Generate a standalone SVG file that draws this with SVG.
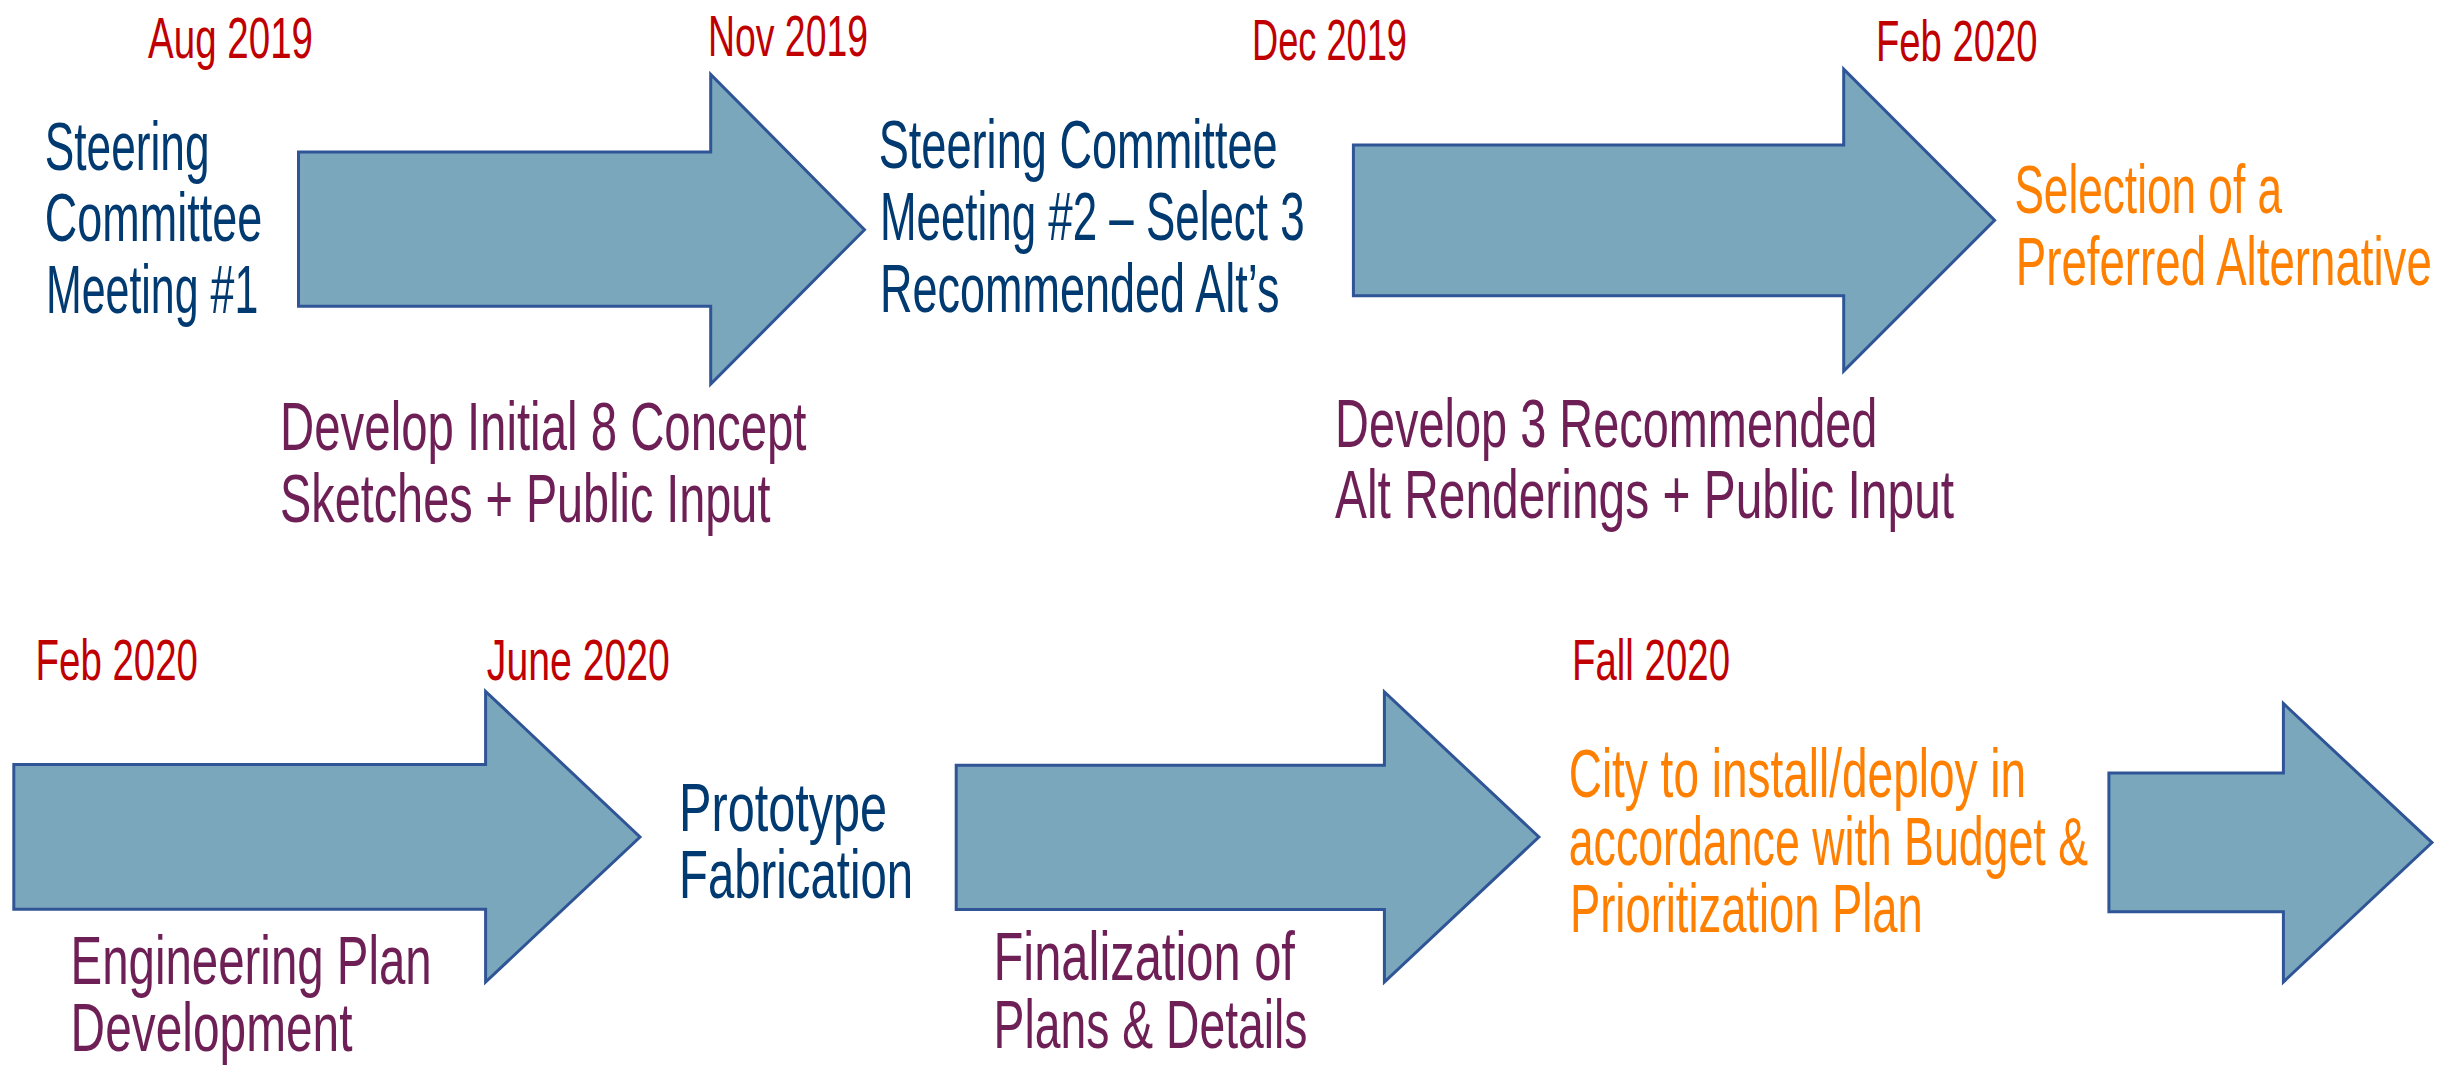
<svg xmlns="http://www.w3.org/2000/svg" width="2456" height="1089" viewBox="0 0 2456 1089">
  <style>
    text { font-family: "Liberation Sans Narrow", "Liberation Sans", Arial, sans-serif; }
    .date { font-size: 58px; fill: #C00000; }
    .step { font-size: 68px; fill: #003A70; }
    .task { font-size: 68px; fill: #6E1F56; }
    .goal { font-size: 68px; fill: #FF8000; }
    .arrow { fill: #7BA7BC; stroke: #2F5597; stroke-width: 3; stroke-linejoin: miter; }
  </style>
  <rect width="2456" height="1089" fill="#FFFFFF"/>

  <!-- Block arrows between milestones -->
  <g id="connectors">
    <polygon class="arrow" points="298.5,152 710.7,152 710.7,74.4 864.5,229.7 710.7,384 710.7,306.2 298.5,306.2"/>
    <polygon class="arrow" points="1353.4,145 1843.7,145 1843.7,69.1 1994.6,220.3 1843.7,371.1 1843.7,295.7 1353.4,295.7"/>
    <polygon class="arrow" points="13.8,764.6 485.6,764.6 485.6,691.4 640,837 485.6,982 485.6,909.3 13.8,909.3"/>
    <polygon class="arrow" points="956.2,765.3 1384.4,765.3 1384.4,692 1538.9,837 1384.4,982 1384.4,909.6 956.2,909.6"/>
    <polygon class="arrow" points="2108.9,773 2283.4,773 2283.4,703.5 2432,842.6 2283.4,982 2283.4,911.8 2108.9,911.8"/>
  </g>

  <!-- Dates -->
  <g id="dates">
    <text class="date" x="148" y="57.5" textLength="165" lengthAdjust="spacingAndGlyphs">Aug 2019</text>
    <text class="date" x="708" y="56" textLength="160" lengthAdjust="spacingAndGlyphs">Nov 2019</text>
    <text class="date" x="1252" y="60" textLength="155" lengthAdjust="spacingAndGlyphs">Dec 2019</text>
    <text class="date" x="1876" y="61" textLength="161.5" lengthAdjust="spacingAndGlyphs">Feb 2020</text>
    <text class="date" x="35.6" y="679.5" textLength="162.4" lengthAdjust="spacingAndGlyphs">Feb 2020</text>
    <text class="date" x="486.8" y="679.5" textLength="183" lengthAdjust="spacingAndGlyphs">June 2020</text>
    <text class="date" x="1572" y="680.4" textLength="158" lengthAdjust="spacingAndGlyphs">Fall 2020</text>
  </g>

  <!-- Milestone: Steering Committee Meeting #1 -->
  <g id="meeting-1">
    <text class="step" x="44.8" y="170" textLength="164.7" lengthAdjust="spacingAndGlyphs">Steering</text>
    <text class="step" x="44.8" y="241.3" textLength="217.5" lengthAdjust="spacingAndGlyphs">Committee</text>
    <text class="step" x="45.9" y="313.2" textLength="212.4" lengthAdjust="spacingAndGlyphs">Meeting #1</text>
  </g>

  <!-- Task: concept sketches -->
  <g id="concept-sketches">
    <text class="task" x="280.1" y="450" textLength="526.4" lengthAdjust="spacingAndGlyphs">Develop Initial 8 Concept</text>
    <text class="task" x="280.1" y="522" textLength="490.3" lengthAdjust="spacingAndGlyphs">Sketches + Public Input</text>
  </g>

  <!-- Milestone: Steering Committee Meeting #2 -->
  <g id="meeting-2">
    <text class="step" x="878.7" y="167.7" textLength="399" lengthAdjust="spacingAndGlyphs">Steering Committee</text>
    <text class="step" x="879.9" y="240.3" textLength="424.7" lengthAdjust="spacingAndGlyphs">Meeting #2 – Select 3</text>
    <text class="step" x="879.9" y="311.5" textLength="399.5" lengthAdjust="spacingAndGlyphs">Recommended Alt’s</text>
  </g>

  <!-- Task: alternative renderings -->
  <g id="alt-renderings">
    <text class="task" x="1335" y="447.2" textLength="542.4" lengthAdjust="spacingAndGlyphs">Develop 3 Recommended</text>
    <text class="task" x="1335" y="518.4" textLength="619.1" lengthAdjust="spacingAndGlyphs">Alt Renderings + Public Input</text>
  </g>

  <!-- Outcome: preferred alternative -->
  <g id="preferred-alternative">
    <text class="goal" x="2014.4" y="213.3" textLength="267.6" lengthAdjust="spacingAndGlyphs">Selection of a</text>
    <text class="goal" x="2015.8" y="284.8" textLength="416" lengthAdjust="spacingAndGlyphs">Preferred Alternative</text>
  </g>

  <!-- Task: engineering plan -->
  <g id="engineering-plan">
    <text class="task" x="70.6" y="983.5" textLength="361.1" lengthAdjust="spacingAndGlyphs">Engineering Plan</text>
    <text class="task" x="70.6" y="1050.6" textLength="281.9" lengthAdjust="spacingAndGlyphs">Development</text>
  </g>

  <!-- Milestone: prototype -->
  <g id="prototype">
    <text class="step" x="679.1" y="830.7" textLength="208" lengthAdjust="spacingAndGlyphs">Prototype</text>
    <text class="step" x="679.1" y="897.8" textLength="234" lengthAdjust="spacingAndGlyphs">Fabrication</text>
  </g>

  <!-- Task: finalization -->
  <g id="finalization">
    <text class="task" x="993.5" y="980.4" textLength="301.4" lengthAdjust="spacingAndGlyphs">Finalization of</text>
    <text class="task" x="993.5" y="1048" textLength="314" lengthAdjust="spacingAndGlyphs">Plans &amp; Details</text>
  </g>

  <!-- Outcome: city deployment -->
  <g id="deployment">
    <text class="goal" x="1568.7" y="797.4" textLength="457.3" lengthAdjust="spacingAndGlyphs">City to install/deploy in</text>
    <text class="goal" x="1568.7" y="865" textLength="519.3" lengthAdjust="spacingAndGlyphs">accordance with Budget &amp;</text>
    <text class="goal" x="1570" y="932" textLength="352.8" lengthAdjust="spacingAndGlyphs">Prioritization Plan</text>
  </g>
</svg>
